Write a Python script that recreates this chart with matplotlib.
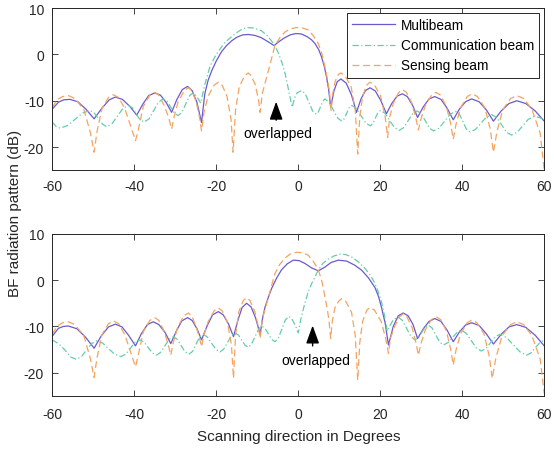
import matplotlib
matplotlib.use("Agg")
import matplotlib.pyplot as plt

plt.rcParams['font.family'] = ['Liberation Sans', 'DejaVu Sans']
plt.rcParams['axes.unicode_minus'] = False

# ---------------- top panel (comm beam near -12 deg, sensing near 0 deg) ----------------
top_multi_deg = [-60, -58.5, -57.2, -55.7, -53.8, -51.8, -49.8,
                 -47.9, -46.1, -44.6, -42.9, -41.1, -39.4,
                 -37.9, -36.5, -35, -33.6, -32.2, -30.9,
                 -29.6, -28.3, -27, -25.9, -24.7, -23.6,
                 -22.8, -22, -21.1, -20, -18.7, -17.5, -16.3, -15, -13.6, -12.2, -10.6, -9, -7.5,
                 -5.9, -4.8, -3.5, -2, -0.6, 0.8, 2.2, 3.3, 4.1, 5, 5.7, 6.4, 6.9, 7.4, 7.9,
                 8.7, 9.5, 10.4, 11.7, 13.0, 14.2,
                 15.3, 16.4, 17.5, 18.8, 20.1, 21.5,
                 22.8, 24.1, 25.4, 26.6, 27.9, 29.1,
                 30.5, 31.9, 33.3, 34.8, 36.3, 37.8,
                 39.3, 40.8, 42.3, 44.1, 45.9, 47.6,
                 49.5, 51.4, 53.3, 55.5, 57.8, 60]
top_multi_db = [-11.8, -10.3, -9.8, -9.7, -10.2, -11.8, -13.9,
                -11.6, -9.8, -9.2, -9.7, -11.2, -13.1,
                -10.7, -8.9, -8.3, -8.8, -10.4, -12.5,
                -9.7, -7.6, -6.9, -7.8, -10.4, -14.7,
                -8.5, -5.6, -3.5, -1.4, 0.6, 1.9, 2.9, 3.7, 4.2, 4.3, 4.1, 3.6, 2.8,
                1.9, 2.7, 3.5, 4.2, 4.5, 4.4, 3.8, 3.1, 2.3, 1.0, -0.6, -2.8, -4.9, -7.5, -11.4,
                -7.9, -5.9, -5.3, -6.2, -8.8, -12.5,
                -9.6, -7.8, -7.2, -7.9, -9.9, -12.8,
                -10.6, -9.0, -8.5, -9.1, -11.0, -13.6,
                -11.3, -9.6, -9.1, -9.7, -11.6, -14.1,
                -11.8, -10.2, -9.6, -10.2, -12.0, -14.4,
                -12.2, -10.6, -10.0, -10.6, -12.2, -14.4]

top_comm_deg = [-60, -59.0, -58.1,
                -56.3, -54.45, -52.6, -50.8,
                -49.8, -48.75, -47.7, -46.7,
                -45.4, -44.1, -42.8, -41.5,
                -40.5, -39.55, -38.6, -37.6,
                -36.4, -35.25, -34.1, -32.9,
                -32.0, -31.1, -30.2, -29.3,
                -28.4, -27.45, -26.5, -25.6,
                -24.7, -23.8,
                -22.8, -21.5, -20, -18, -15.5, -14, -12.6, -10.8, -9, -7.5, -6, -5, -4, -3.2, -2.5, -1.5,
                -0.9, -0.3, 0.8,
                1.7, 2.6, 3.5, 4.4,
                4.9, 5.45, 6.0, 6.5,
                7.5, 8.55, 9.6, 10.6,
                11.2, 11.8, 12.4, 13.0,
                14.15, 15.3, 16.45, 17.6,
                18.2, 18.8, 19.4, 20,
                21.15, 22.3, 23.45, 24.6,
                25.7, 26.8, 27.9, 29,
                30, 31, 32, 33,
                34.35, 35.7, 37.05, 38.4,
                39.3, 40.15, 41.0, 41.9,
                43.2, 44.55, 45.9, 47.2,
                48.4, 49.6, 50.8, 52,
                53.4, 54.75, 56.1, 57.5,
                58.8, 60]
top_comm_db = [-14.6, -15.6, -15.9,
               -15.35, -14.0, -12.65, -12.1,
               -12.6, -13.85, -15.1, -15.6,
               -14.9, -13.3, -11.7, -11.0,
               -11.5, -12.8, -14.1, -14.6,
               -13.9, -12.1, -10.3, -9.6,
               -10.1, -11.4, -12.7, -13.2,
               -12.5, -10.7, -8.9, -8.2,
               -9.2, -10.5,
               -6.5, -2.5, 0.0, 2.5, 4.4, 5.3, 5.8, 5.7, 5.1, 4.0, 2.3, 0.6, -1.7, -4.2, -7.1, -11.4,
               -9.4, -8.3, -7.8,
               -8.5, -10.35, -12.2, -12.9,
               -12.4, -11.25, -10.1, -9.6,
               -10.3, -12.0, -13.7, -14.4,
               -13.9, -12.7, -11.5, -11.0,
               -11.6, -13.2, -14.8, -15.4,
               -14.9, -13.75, -12.6, -12.1,
               -12.7, -14.25, -15.8, -16.4,
               -15.8, -14.3, -12.8, -12.2,
               -12.8, -14.35, -15.9, -16.5,
               -15.9, -14.4, -12.9, -12.3,
               -12.9, -14.5, -16.1, -16.7,
               -16.2, -14.85, -13.5, -13.0,
               -13.6, -15.2, -16.8, -17.4,
               -16.8, -15.4, -14.0, -13.4,
               -13.6, -14.1]

top_sens_deg = [-60, -58.9, -57.5, -56,
                -54.5, -52.3, -50.7, -49.8,
                -49.1, -47.9, -46.3, -45.1,
                -43.8, -42.3, -40.5, -39.7,
                -39.0, -37.8, -36.2, -35,
                -34.0, -32.6, -31.5, -30.9,
                -30.3, -29.3, -27.8, -26.8,
                -26.0, -24.9, -24.1, -23.6,
                -23.0, -22.0, -20.5, -19.5,
                -18.6, -17.4, -16.4, -15.9,
                -15.3, -14.4, -13.1, -12.2,
                -11.5, -10.5, -9.7, -9.3,
                -8.8, -7.7, -6.7, -5.7, -4.5, -3.3, -2, -0.4, 1.0, 2.4, 3.7, 4.9, 5.8, 6.5, 7.1,
                7.6, 8.0,
                8.4, 9.0, 9.8, 10.4,
                11.4, 12.9, 13.9, 14.5,
                15.0, 15.7, 16.7, 17.5,
                18.6, 20.1, 21.2, 21.8,
                22.3, 23.2, 24.5, 25.4,
                26.4, 27.7, 28.7, 29.3,
                29.9, 31.0, 32.5, 33.6,
                34.7, 36.1, 37.2, 37.8,
                38.5, 39.6, 41.2, 42.4,
                43.7, 45.5, 46.8, 47.6,
                48.5, 49.9, 51.8, 53.3,
                55.0, 57.0, 59.0, 60]
top_sens_db = [-11.5, -9.8, -9.1, -8.9,
               -9.5, -11.9, -16.9, -21.1,
               -16.7, -11.7, -9.3, -8.7,
               -9.3, -11.7, -16.5, -18.6,
               -16.2, -11.2, -8.8, -8.2,
               -8.8, -11.2, -14.0, -16.1,
               -13.5, -10.2, -7.8, -7.2,
               -7.8, -10.2, -13.5, -16.5,
               -12.5, -9.0, -6.6, -6.0,
               -6.6, -9.0, -14.0, -21.1,
               -12.0, -7.0, -4.6, -4.0,
               -4.6, -6.5, -9.8, -12.5,
               -8.5, -4.9, -1.5, 1.9, 3.6, 4.8, 5.5, 5.8, 5.7, 5.3, 4.0, 2.3, 0.0, -2.7, -5.3,
               -8.0, -12.1,
               -8.5, -5.8, -4.3, -4.0,
               -4.6, -7.0, -12.0, -21.5,
               -13.5, -9.0, -6.6, -6.0,
               -6.6, -9.0, -13.5, -17.9,
               -13.5, -10.5, -8.2, -7.6,
               -8.2, -10.5, -13.8, -16.3,
               -14.0, -11.0, -8.8, -8.2,
               -8.8, -11.2, -15.0, -18.3,
               -15.0, -11.5, -9.1, -8.5,
               -9.1, -11.5, -16.0, -21.1,
               -16.5, -11.9, -9.5, -8.9,
               -9.5, -11.9, -17.0, -25.0]

# ---------------- bottom panel (sensing near 0 deg, comm beam near +10 deg) ----------------
bot_multi_deg = [-60, -58.5, -57.3, -56.1,
                 -54.0, -51.9, -49.8,
                 -48.1, -46.3, -44.6,
                 -43.0, -41.4, -39.7,
                 -38.3, -36.8, -35.4,
                 -34.0, -32.5, -31.1,
                 -29.7, -28.4, -27,
                 -25.9, -24.7, -23.6,
                 -22.2, -20.9, -19.5,
                 -18.3, -17.0, -15.8,
                 -14.7, -13.7, -12.6,
                 -11.5, -10.4, -9.3,
                 -8.7, -8.1, -7.3, -6.5, -5.3, -4.1, -2.7, -1.2, 0.2, 1.6, 3.3, 4.9, 6.5, 8, 9.8,
                 11.8, 13.8, 15.5, 17.1, 18.7, 19.6, 20.3, 21.2, 22,
                 23.2, 24.4, 25.6,
                 26.8, 28.0, 29.1,
                 30.5, 31.9, 33.3,
                 34.8, 36.3, 37.8,
                 39.3, 40.8, 42.3,
                 44.1, 45.8, 47.6,
                 49.5, 51.4, 53.3,
                 55.5, 57.8, 60]
bot_multi_db = [-12.1, -10.4, -10.0, -9.9,
                -10.5, -12.3, -14.7,
                -12.1, -10.1, -9.5,
                -10.1, -11.9, -14.2,
                -11.6, -9.6, -9.0,
                -9.6, -11.3, -13.7,
                -10.9, -8.8, -8.1,
                -8.7, -10.5, -12.9,
                -9.8, -7.5, -6.8,
                -7.5, -9.5, -12.2,
                -8.6, -5.9, -5.0,
                -5.8, -8.2, -11.7,
                -8.2, -5.8, -3.7, -1.8, 0.4, 2.2, 3.5, 4.3, 4.2, 3.6, 2.6, 2.0, 2.8, 3.8, 4.3,
                4.1, 3.2, 2.1, 0.5, -1.6, -3.6, -5.9, -9.3, -14.0,
                -9.9, -7.7, -7.1,
                -7.7, -9.6, -12.6,
                -10.5, -8.9, -8.3,
                -8.9, -10.8, -13.3,
                -11.2, -9.7, -9.2,
                -9.8, -11.5, -13.8,
                -11.7, -10.1, -9.6,
                -10.2, -11.9, -14.2]

bot_comm_deg = [-60, -58.5, -57, -55.5, -54.1,
                -52.9, -51.65, -50.4, -49.2,
                -47.7, -46.25, -44.8, -43.3,
                -42.1, -40.95, -39.8, -38.6,
                -37.6, -36.6, -35.6, -34.6,
                -33.6, -32.55, -31.5, -30.5,
                -29.55, -28.6, -27.65, -26.7,
                -25.8, -24.95, -24.1, -23.2,
                -22.2, -21.15, -20.1, -19.1,
                -18.2, -17.25, -16.3, -15.4,
                -14.6, -13.8, -13.0, -12.2,
                -11.4, -10.55, -9.7, -8.9,
                -8.1, -7.3, -6.5, -5.7,
                -4.85, -4.0, -3.15, -2.3,
                -1.5, -0.7, 0,
                0.6, 1.6, 2.4, 3.3, 4.9, 6, 7.3, 8.7, 10.2, 11.6, 13, 14.7, 16.3, 17.6, 18.7,
                19.5, 20.3, 21, 21.7,
                22.4, 23.2, 24.4,
                25.4, 26.45, 27.5, 28.5,
                29.3, 30.1, 30.9, 31.7,
                32.6, 33.55, 34.5, 35.4,
                36.5, 37.6, 38.7, 39.8,
                41.0, 42.2, 43.4, 44.6,
                45.75, 46.9, 48.05, 49.2,
                50.8, 52.45, 54.1, 55.7,
                56.8, 57.9, 59.0, 60]
bot_comm_db = [-12.9, -13.7, -15.0, -16.6, -17.1,
               -16.5, -15.1, -13.7, -13.1,
               -13.6, -14.8, -16.0, -16.5,
               -16.0, -14.7, -13.4, -12.9,
               -13.4, -14.55, -15.7, -16.2,
               -15.6, -14.2, -12.8, -12.2,
               -12.75, -14.1, -15.45, -16.0,
               -15.4, -13.85, -12.3, -11.7,
               -12.25, -13.6, -14.95, -15.5,
               -14.9, -13.45, -12.0, -11.4,
               -11.85, -12.95, -14.05, -14.5,
               -13.8, -12.2, -10.6, -9.9,
               -10.4, -11.6, -12.8, -13.3,
               -12.5, -10.55, -8.6, -7.8,
               -8.5, -9.8, -11.4,
               -8.5, -5.0, -2.6, -0.7, 2.2, 3.6, 4.5, 5.2, 5.6, 5.5, 5.0, 3.9, 2.5, 1.0, -0.7,
               -2.5, -4.7, -7.5, -11.0,
               -9.8, -8.5, -8.0,
               -8.7, -10.45, -12.2, -12.9,
               -12.4, -11.3, -10.2, -9.7,
               -10.3, -11.85, -13.4, -14.0,
               -13.5, -12.4, -11.3, -10.8,
               -11.5, -13.05, -14.6, -15.3,
               -14.8, -13.5, -12.2, -11.7,
               -12.4, -13.95, -15.5, -16.2,
               -15.7, -14.5, -13.4, -12.9]

bot_sens_deg = [-60, -58.9, -57.5, -56.1,
                -54.5, -52.3, -50.7, -49.8,
                -49.1, -47.9, -46.3, -45.1,
                -43.8, -42.3, -40.5, -39.7,
                -39.0, -37.8, -36.2, -35,
                -34.0, -32.7, -31.7, -31.1,
                -30.5, -29.4, -27.9, -26.8,
                -26.0, -24.9, -24.1, -23.6,
                -23.0, -22.0, -20.5, -19.5,
                -18.6, -17.3, -16.3, -15.8,
                -15.3, -14.5, -13.4, -12.6,
                -11.8, -10.6, -9.8, -9.3,
                -8.8, -7.7, -6.7, -5.7, -4.5, -3.3, -2, -0.4, 1.0, 2.4, 3.7, 4.9, 5.8, 6.5, 7.1,
                7.5, 7.9,
                8.3, 9.0, 9.9, 10.6,
                11.6, 13.0, 13.9, 14.5,
                15.0, 15.7, 16.7, 17.5,
                18.6, 20.2, 21.3, 22,
                22.5, 23.4, 24.7, 25.6,
                26.5, 27.8, 28.7, 29.3,
                29.9, 31.0, 32.5, 33.6,
                34.7, 36.1, 37.2, 37.8,
                38.5, 39.6, 41.2, 42.4,
                43.6, 45.3, 46.6, 47.3,
                48.2, 49.7, 51.8, 53.3,
                55.0, 57.0, 59.0, 60]
bot_sens_db = [-11.7, -10.0, -9.2, -9.0,
               -9.6, -12.0, -17.0, -21.0,
               -16.8, -11.8, -9.4, -8.8,
               -9.4, -11.8, -16.6, -18.7,
               -16.1, -11.1, -8.7, -8.1,
               -8.7, -11.1, -14.0, -16.2,
               -13.5, -10.1, -7.7, -7.1,
               -7.7, -10.1, -12.5, -14.4,
               -11.8, -9.0, -6.6, -6.0,
               -6.6, -9.0, -14.0, -21.2,
               -11.8, -6.8, -4.4, -3.8,
               -4.4, -6.8, -9.8, -12.6,
               -8.5, -5.0, -1.8, 1.4, 3.4, 4.7, 5.6, 6.0, 5.9, 5.4, 4.0, 2.2, -0.4, -3.6, -6.4,
               -8.8, -12.6,
               -8.8, -5.8, -4.5, -4.0,
               -4.6, -7.0, -12.0, -21.6,
               -13.5, -8.9, -6.5, -5.9,
               -6.5, -8.9, -12.5, -15.8,
               -12.5, -10.2, -7.9, -7.3,
               -7.9, -10.3, -13.5, -16.2,
               -13.8, -10.7, -8.5, -7.9,
               -8.5, -10.9, -15.0, -18.3,
               -15.0, -11.6, -9.2, -8.6,
               -9.2, -11.6, -16.5, -21.2,
               -16.8, -12.0, -9.6, -9.0,
               -9.6, -12.0, -17.0, -24.5]

xticks = [-60, -40, -20, 0, 20, 40, 60]
yticks = [-20, -10, 0, 10]

c_multi = '#6a5acd'
c_comm = '#66cdaa'
c_sens = '#f4a460'
axcol = '#262626'

fig = plt.figure(figsize=(5.54, 4.52), dpi=100)
ax1 = fig.add_axes([0.0944, 0.621, 0.888, 0.359])
ax2 = fig.add_axes([0.0944, 0.1217, 0.888, 0.359])

panels = [
    (ax1, top_multi_deg, top_multi_db, top_comm_deg, top_comm_db, top_sens_deg, top_sens_db),
    (ax2, bot_multi_deg, bot_multi_db, bot_comm_deg, bot_comm_db, bot_sens_deg, bot_sens_db),
]
for ax, md, mv, cd, cv, sd, sv in panels:
    ax.plot(md, mv, '-', color=c_multi, lw=0.9, label='Multibeam')
    ax.plot(cd, cv, color=c_comm, lw=0.9, dashes=(5, 2, 1, 2), label='Communication beam')
    ax.plot(sd, sv, color=c_sens, lw=0.9, dashes=(5.5, 3), label='Sensing beam')
    ax.set_xlim(-60, 60)
    ax.set_ylim(-25, 10)
    ax.set_xticks(xticks)
    ax.set_yticks(yticks)
    ax.tick_params(direction='in', top=True, right=True, length=4, width=0.6,
                   labelsize=10, colors=axcol, pad=6)
    for s in ax.spines.values():
        s.set_color(axcol)
        s.set_linewidth(0.7)
ax2.tick_params(axis='x', pad=8)

leg = ax1.legend(loc='upper right', fontsize=9.8, handlelength=3.1, handletextpad=0.45,
                 borderpad=0.4, labelspacing=0.45, borderaxespad=0.35, fancybox=False,
                 framealpha=1, edgecolor=axcol)
leg.get_frame().set_linewidth(0.7)

arrow = dict(arrowstyle='-|>,head_length=1.1,head_width=0.4', color='black', lw=1.0)
ax1.annotate('', xy=(-5.4, -9.6), xytext=(-5.4, -14.8), arrowprops=arrow)
ax1.text(-4.9, -17.0, 'overlapped', ha='center', va='center', fontsize=10)
ax2.annotate('', xy=(3.5, -9.2), xytext=(3.5, -14.8), arrowprops=arrow)
ax2.text(4.2, -17.2, 'overlapped', ha='center', va='center', fontsize=10)

ax2.set_xlabel('Scanning direction in Degrees', fontsize=11, color=axcol, labelpad=6)
fig.text(0.027, 0.528, 'BF radiation pattern (dB)', rotation=90, ha='center', va='center',
         fontsize=11, color=axcol)

fig.savefig('out.png', dpi=100)
